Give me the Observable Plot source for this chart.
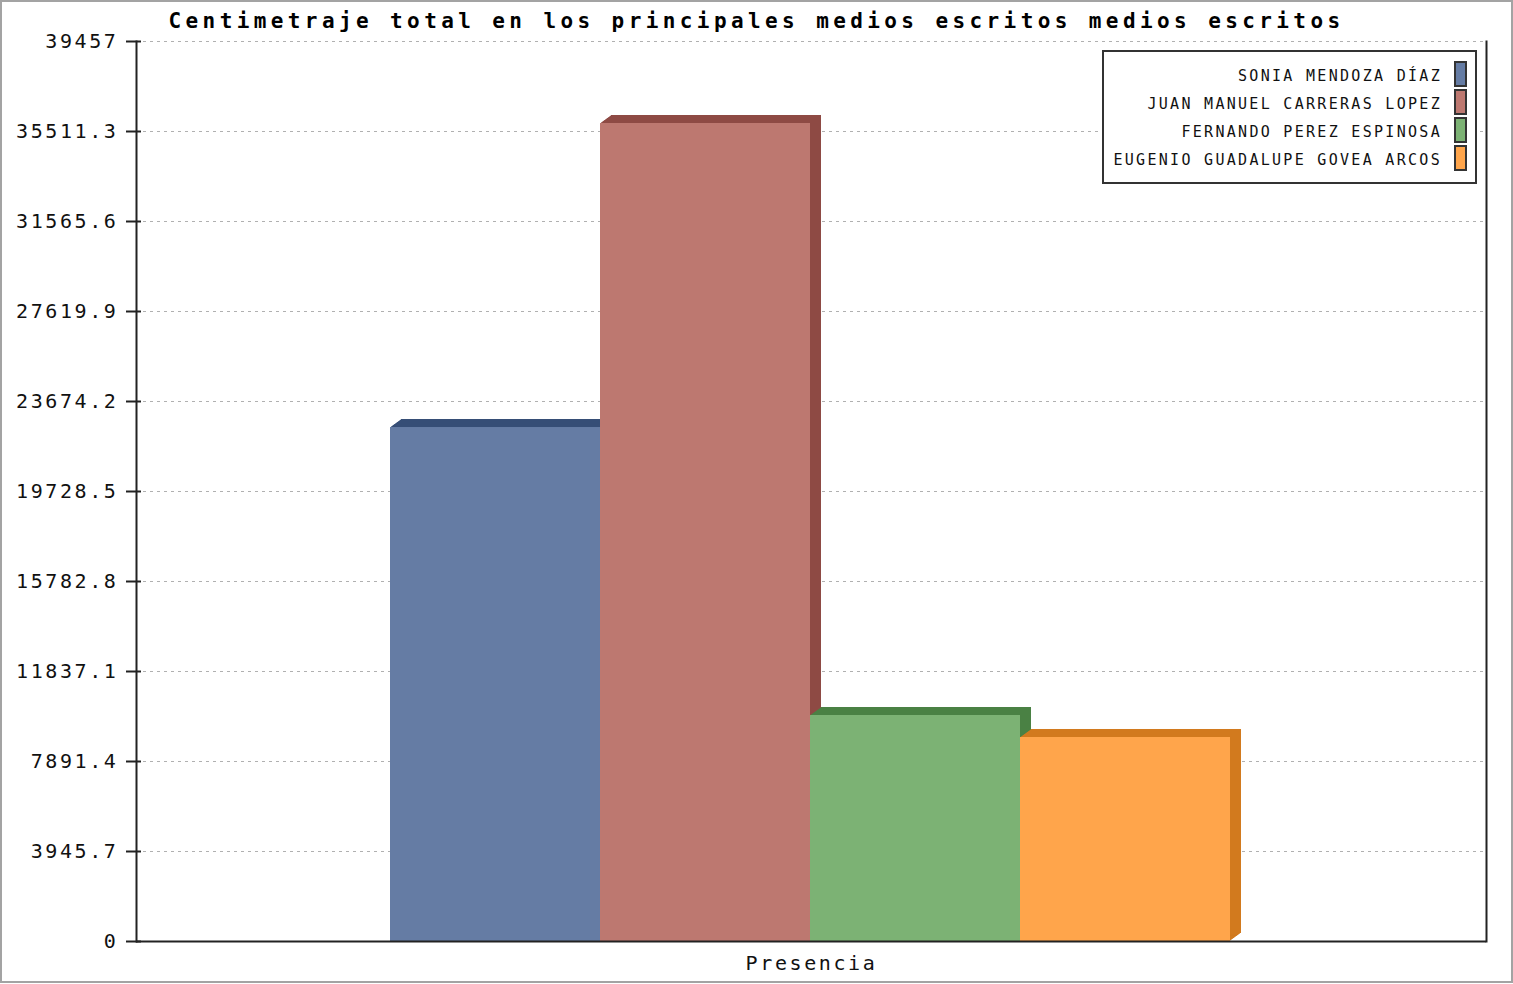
<!DOCTYPE html>
<html>
<head>
<meta charset="utf-8">
<script src="https://cdn.jsdelivr.net/npm/d3@7"></script>
<script src="https://cdn.jsdelivr.net/npm/@observablehq/plot@0.6"></script>
<style>
  body { margin: 0; background: #fff; }
  #wrap { position: relative; width: 1513px; height: 984px; overflow: hidden; background: #fff; }
  #border { position: absolute; left: 0; top: 0; width: 1513px; height: 983px; box-sizing: border-box; border: 2px solid #a3a3a3; pointer-events: none; }
  #title { position: absolute; left: 0; width: 1513px; top: 9px; text-align: center; font-family: "DejaVu Sans Mono", monospace; font-weight: bold; font-size: 21px; letter-spacing: 4.4px; line-height: 24px; color: #000; white-space: nowrap; }
  #legend { position: absolute; left: 1102px; top: 50px; width: 375px; height: 134px; box-sizing: border-box; border: 2px solid #333; background: #fff; }
  .lt { position: absolute; right: 33px; font-family: "DejaVu Sans Mono", monospace; font-size: 15px; letter-spacing: 2.3px; line-height: 18px; white-space: nowrap; color: #111; }
  .ls { position: absolute; left: 350px; width: 13px; height: 26px; box-sizing: border-box; border: 2px solid #333; }
  #chart svg text { letter-spacing: 2.6px; }
</style>
</head>
<body>
<div id="wrap">
  <div id="chart"></div>
  <div id="title"></div>
  <div id="legend"></div>
  <div id="border"></div>
</div>
<script>
const chartTitle = "Centimetraje total en los principales medios escritos medios escritos";
const categories = ["Presencia"];
const series = ["SONIA MENDOZA DÍAZ", "JUAN MANUEL CARRERAS LOPEZ", "FERNANDO PEREZ ESPINOSA", "EUGENIO GUADALUPE GOVEA ARCOS"];
const values = [22534, 35862, 9908, 8944];
const yTicks = [0, 3945.7, 7891.4, 11837.1, 15782.8, 19728.5, 23674.2, 27619.9, 31565.6, 35511.3, 39457];
const yTickLabels = ["0", "3945.7", "7891.4", "11837.1", "15782.8", "19728.5", "23674.2", "27619.9", "31565.6", "35511.3", "39457"];
const frontColors = ["#657ca4", "#bd7870", "#7cb274", "#ffa54b"];
const darkColors = ["#364e76", "#8e4a44", "#4a8144", "#d27a1e"];

const data = series.map((name, i) => ({name, value: values[i], category: categories[0]}));

document.getElementById("title").textContent = chartTitle;

const legend = document.getElementById("legend");
series.forEach((s, i) => {
  const t = document.createElement("div");
  t.className = "lt";
  t.style.top = (15 + 28 * i) + "px";
  t.textContent = s;
  legend.appendChild(t);
  const sw = document.createElement("div");
  sw.className = "ls";
  sw.style.top = (9 + 28 * i) + "px";
  sw.style.background = frontColors[i];
  legend.appendChild(sw);
});

// 3D depth of bars (pixels)
const depthX = 11, depthY = 8;

const barMarks = [];
data.forEach((d, i) => {
  // dark extruded block (top + side faces) built from shifted copies of the bar
  for (let k = 1; k <= depthX; k++) {
    barMarks.push(Plot.barY([d], {x: "name", y: "value", fill: darkColors[i], dx: k, dy: -k * depthY / depthX}));
  }
  // front face
  barMarks.push(Plot.barY([d], {x: "name", y: "value", fill: "name"}));
});

const chart = Plot.plot({
  width: 1513,
  height: 984,
  marginLeft: 136,
  marginRight: 27,
  marginTop: 41,
  marginBottom: 43,
  style: {fontFamily: "DejaVu Sans Mono, monospace", fontSize: "20px", color: "#111", background: "#fff"},
  x: {type: "band", domain: series, range: [389, 1230], padding: 0, axis: null},
  y: {domain: [0, 39457], ticks: yTicks},
  color: {domain: series, range: frontColors},
  marks: [
    Plot.gridY(yTicks, {stroke: "#b0b0b0", strokeOpacity: 1, strokeDasharray: "3,4"}),
    ...barMarks,
    Plot.frame({anchor: "left", stroke: "#222", strokeWidth: 2}),
    Plot.frame({anchor: "right", stroke: "#222", strokeWidth: 2}),
    Plot.ruleY([0], {stroke: "#222", strokeWidth: 2}),
    Plot.axisY({ticks: yTicks, tickFormat: (d) => yTickLabels[yTicks.indexOf(d)], tickSize: 15, dx: 5, tickPadding: 8, stroke: "#222", strokeWidth: 2, fontSize: 20, label: null}),
    Plot.text(categories, {text: d => d, frameAnchor: "bottom", dy: 28, fontSize: 20, fill: "#111"})
  ]
});
document.getElementById("chart").appendChild(chart);
</script>
</body>
</html>
